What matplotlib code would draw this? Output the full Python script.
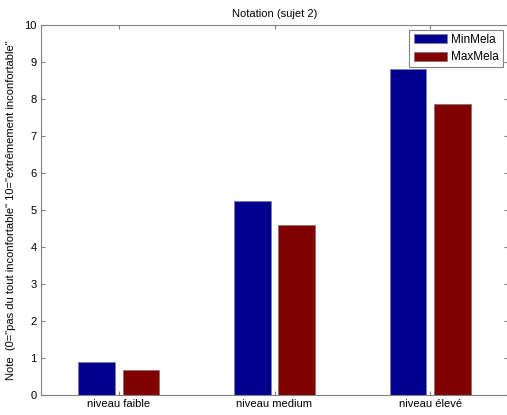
import numpy as np
import matplotlib
matplotlib.use("Agg")
import matplotlib.pyplot as plt

# Data
categories = ["niveau faible", "niveau medium", "niveau élevé"]
min_mela = [0.89, 5.24, 8.82]
max_mela = [0.67, 4.60, 7.86]
series_names = ["MinMela", "MaxMela"]

plt.rcParams['font.family'] = ['Liberation Sans', 'DejaVu Sans']

fig = plt.figure(figsize=(5.07, 4.15), dpi=100)
ax = fig.add_axes([41 / 507, 20 / 415, 467 / 507, 370 / 415])

x = np.arange(1, len(categories) + 1)
w = 0.235
off = 0.143
ax.bar(x - off, min_mela, w, color="#00008f", edgecolor="#7f7f9f", linewidth=0.6, label=series_names[0])
ax.bar(x + off, max_mela, w, color="#800000", edgecolor="#8f6f6f", linewidth=0.6, label=series_names[1])

ax.set_xlim(0.5, 3.5)
ax.set_ylim(0, 10)
ax.set_xticks(x)
ax.set_xticklabels(categories)
ax.set_yticks(np.arange(0, 11, 1))
ax.tick_params(direction="in", top=True, right=True, labelsize=8, length=3, color="#808080", pad=3)
for s in ax.spines.values():
    s.set_color("#808080")
    s.set_linewidth(0.8)

ax.set_title("Notation (sujet 2)", fontsize=8, pad=6)
ax.set_ylabel('Note  (0="pas du tout inconfortable" 10="extrêmement inconfortable"', fontsize=8, labelpad=6)

leg = ax.legend(loc="upper right", fontsize=8.5, fancybox=False, framealpha=1,
                edgecolor="#808080", handlelength=2.8, handleheight=0.8,
                borderpad=0.35, labelspacing=0.45, handletextpad=0.4,
                borderaxespad=0.4)
leg.get_frame().set_linewidth(0.8)

fig.savefig("out.png", dpi=100)
